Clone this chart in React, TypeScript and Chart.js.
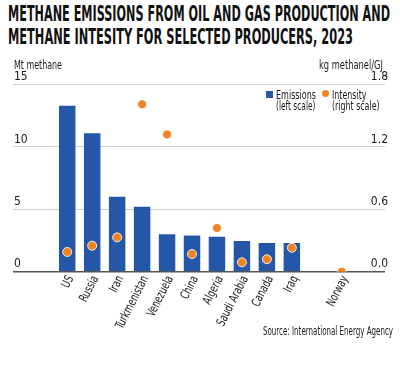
import React, { useEffect, useRef } from "react";
import { Chart, registerables } from "chart.js";
Chart.register(...registerables);

const categories = ["US", "Russia", "Iran", "Turkmenistan", "Venezuela", "China", "Algeria", "Saudi Arabia", "Canada", "Iraq", "", "Norway"];
const emissions: (number | null)[] = [13.3, 11.1, 6.0, 5.2, 3.0, 2.9, 2.8, 2.45, 2.3, 2.3, null, null];
const intensity: (number | null)[] = [0.19, 0.25, 0.33, 1.61, 1.32, 0.17, 0.42, 0.09, 0.12, 0.23, null, 0.0];
const leftTicks = { min: 0, max: 15, step: 5 };
const rightTicks = { min: 0, max: 1.8, step: 0.6 };

const NARROW = '"Liberation Sans Narrow", "DejaVu Sans Condensed", "DejaVu Sans", sans-serif';
const BLUE = "#2457a8";
const ORANGE = "#f08424";

function FitText({ text, width, style }: { text: string; width: number; style: React.CSSProperties }) {
  const ref = useRef<HTMLSpanElement>(null);
  useEffect(() => {
    const el = ref.current;
    if (!el) return;
    el.style.transform = "none";
    const w = el.getBoundingClientRect().width;
    if (w > 0) el.style.transform = `scaleX(${width / w})`;
  }, [text, width]);
  return (
    <span ref={ref} style={{ display: "inline-block", whiteSpace: "nowrap", transformOrigin: "left top", ...style }}>
      {text}
    </span>
  );
}

const xLabelPlugin = {
  id: "xLabels",
  afterDraw(chart: any) {
    const scale = chart.scales.x;
    const ctx = chart.ctx;
    ctx.save();
    ctx.font = `12.5px ${NARROW}`;
    ctx.fillStyle = "#1a1a1a";
    ctx.textAlign = "right";
    ctx.textBaseline = "middle";
    const sx = 58 / ctx.measureText("Turkmenistan").width;
    const ang = (-63 * Math.PI) / 180;
    categories.forEach((lab, i) => {
      if (!lab) return;
      const x = scale.getPixelForValue(i);
      ctx.save();
      ctx.translate(x + 3.5, scale.top + 5);
      ctx.rotate(ang);
      ctx.scale(sx, 1);
      ctx.fillText(lab, 0, 0);
      ctx.restore();
    });
    ctx.restore();
  },
};

export default function App() {
  const canvasRef = useRef<HTMLCanvasElement>(null);
  useEffect(() => {
    const canvas = canvasRef.current;
    if (!canvas) return;
    const chart = new Chart(canvas, {
      type: "bar",
      data: {
        datasets: [
          {
            type: "scatter" as any,
            label: "Intensity",
            data: intensity.map((v, i) => ({ x: i, y: v })).filter((d) => d.y !== null) as any,
            yAxisID: "y1",
            backgroundColor: ORANGE,
            borderColor: "rgba(255,255,255,0.85)",
            borderWidth: 1,
            pointRadius: 4.5,
            order: 0,
          },
          {
            type: "bar",
            label: "Emissions",
            data: emissions.map((v, i) => ({ x: i, y: v })).filter((d) => d.y !== null) as any,
            yAxisID: "y",
            backgroundColor: BLUE,
            categoryPercentage: 1,
            barPercentage: 0.66,
            order: 1,
          },
        ],
      },
      options: {
        animation: false,
        responsive: false,
        maintainAspectRatio: false,
        layout: { padding: { left: 13, right: 15, top: 84.5, bottom: 5 } },
        plugins: { legend: { display: false }, tooltip: { enabled: false } },
        scales: {
          x: {
            type: "linear",
            min: -1.64,
            max: 12.2,
            grid: { display: false },
            border: { display: false },
            afterFit: (s: any) => { s.height = 90.3; },
            ticks: { display: false, stepSize: 1, includeBounds: false },
          },
          y: {
            position: "left",
            min: leftTicks.min,
            max: leftTicks.max,
            afterFit: (s: any) => { s.width = 0; },
            border: { display: false },
            grid: {
              drawTicks: false,
              color: (c: any) => (c.tick && c.tick.value === 0 ? "#555" : "#cfcfcf"),
              lineWidth: (c: any) => (c.tick && c.tick.value === 0 ? 1.5 : 1),
            },
            ticks: {
              stepSize: leftTicks.step,
              mirror: true,
              padding: 1,
              labelOffset: -7.5,
              color: "#1a1a1a",
              font: { family: NARROW, size: 12 },
            },
          },
          y1: {
            position: "right",
            min: rightTicks.min,
            max: rightTicks.max,
            afterFit: (s: any) => { s.width = 0; },
            border: { display: false },
            grid: { display: false, drawTicks: false },
            ticks: {
              stepSize: rightTicks.step,
              mirror: true,
              padding: 3,
              labelOffset: -7.5,
              color: "#1a1a1a",
              font: { family: NARROW, size: 12 },
              callback: (v: any) => Number(v).toFixed(1),
            },
          },
        },
      },
      plugins: [xLabelPlugin],
    });
    return () => chart.destroy();
  }, []);

  const small: React.CSSProperties = { fontFamily: NARROW, fontSize: 12, color: "#1a1a1a", lineHeight: "13px" };
  const titleStyle: React.CSSProperties = { fontFamily: NARROW, fontWeight: 700, fontSize: 21, color: "#111", lineHeight: "22.6px" };
  const at = (left: number, top: number): React.CSSProperties => ({ position: "absolute", left, top, lineHeight: "13px" });
  return (
    <div style={{ position: "fixed", left: 0, top: 0, width: 400, height: 367, background: "#fff", overflow: "hidden" }}>
      <div style={{ position: "absolute", left: 8, top: 3.4, lineHeight: "22.6px" }}>
        <div style={{ height: 22.6 }}><FitText text="METHANE EMISSIONS FROM OIL AND GAS PRODUCTION AND" width={382} style={titleStyle} /></div>
        <div style={{ height: 22.6 }}><FitText text="METHANE INTESITY FOR SELECTED PRODUCERS, 2023" width={345} style={titleStyle} /></div>
      </div>
      <canvas ref={canvasRef} width={400} height={367} style={{ position: "absolute", left: 0, top: 0 }} />
      <div style={at(14, 57)}><FitText text="Mt methane" width={48} style={small} /></div>
      <div style={at(319, 57)}><FitText text="kg methanel/GJ" width={64} style={small} /></div>
      <div style={{ position: "absolute", left: 266, top: 90.5, width: 7, height: 7, background: BLUE }} />
      <div style={at(275.7, 87)}><FitText text="Emissions" width={40} style={small} /></div>
      <div style={at(275.7, 98)}><FitText text="(left scale)" width={39.5} style={small} /></div>
      <div style={{ position: "absolute", left: 322.2, top: 89.8, width: 7, height: 7, borderRadius: "50%", background: ORANGE }} />
      <div style={at(331.7, 87)}><FitText text="Intensity" width={34.5} style={small} /></div>
      <div style={at(331.7, 98)}><FitText text="(right scale)" width={47.6} style={small} /></div>
      <div style={at(263, 322.5)}><FitText text="Source: International Energy Agency" width={130} style={small} /></div>
    </div>
  );
}
